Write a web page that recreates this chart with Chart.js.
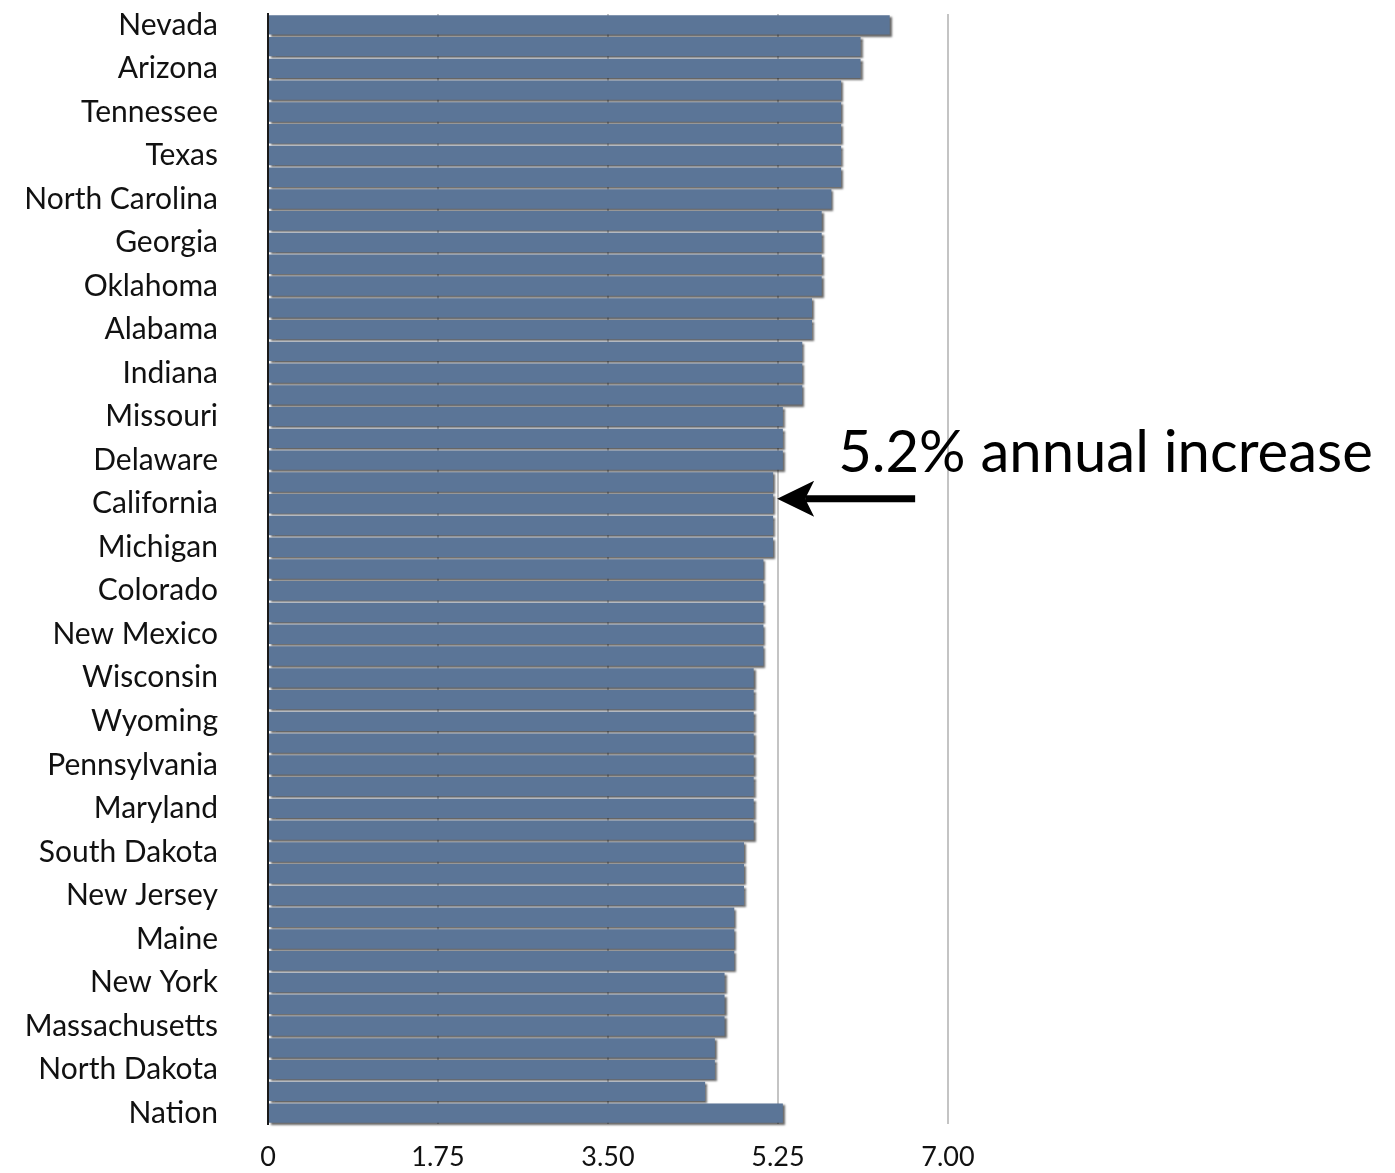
<!DOCTYPE html>
<html>
<head>
<meta charset="utf-8">
<title>Annual increase by state</title>
<script src="https://cdn.jsdelivr.net/npm/chart.js@4/dist/chart.umd.min.js"></script>
<style>
  html, body { margin: 0; padding: 0; background: #ffffff; }
  #wrap { width: 1395px; height: 1173px; position: relative; }
</style>
</head>
<body>
<div id="wrap"><canvas id="chart"></canvas></div>
<script>
// Row labels: every other row carries a name, the rows between are unnamed.
const categories = [
  'Nevada', '', 'Arizona', '', 'Tennessee', '', 'Texas', '', 'North Carolina', '',
  'Georgia', '', 'Oklahoma', '', 'Alabama', '', 'Indiana', '', 'Missouri', '',
  'Delaware', '', 'California', '', 'Michigan', '', 'Colorado', '', 'New Mexico', '',
  'Wisconsin', '', 'Wyoming', '', 'Pennsylvania', '', 'Maryland', '', 'South Dakota', '',
  'New Jersey', '', 'Maine', '', 'New York', '', 'Massachusetts', '', 'North Dakota', '',
  'Nation'
];

// Annual increase (%) for each row.
const increase = [
  6.4, 6.1, 6.1, 5.9, 5.9, 5.9, 5.9, 5.9, 5.8, 5.7,
  5.7, 5.7, 5.7, 5.6, 5.6, 5.5, 5.5, 5.5, 5.3, 5.3,
  5.3, 5.2, 5.2, 5.2, 5.2, 5.1, 5.1, 5.1, 5.1, 5.1,
  5.0, 5.0, 5.0, 5.0, 5.0, 5.0, 5.0, 5.0, 4.9, 4.9,
  4.9, 4.8, 4.8, 4.8, 4.7, 4.7, 4.7, 4.6, 4.6, 4.5,
  5.3
];

// Value axis ticks.
const tickValues = [0, 1.75, 3.5, 5.25, 7];
const tickLabels = ['0', '1.75', '3.50', '5.25', '7.00'];

// Callout pointing at one row.
const calloutRow = 'California';
const calloutText = '5.2% annual increase';

const FONT = 'Lato, "Open Sans", "DejaVu Sans", sans-serif';

// Soft drop shadow under the bars.
const barShadow = {
  id: 'barShadow',
  beforeDatasetsDraw(chart) {
    const ctx = chart.ctx;
    ctx.save();
    ctx.shadowColor = 'rgba(0,0,0,0.6)';
    ctx.shadowBlur = 2;
    ctx.shadowOffsetX = 2;
    ctx.shadowOffsetY = 2;
  },
  afterDatasetsDraw(chart) {
    chart.ctx.restore();
  }
};

// Arrow and text for the callout row.
const callout = {
  id: 'callout',
  afterDraw(chart) {
    const ctx = chart.ctx;
    const xs = chart.scales.x, ys = chart.scales.y;
    const idx = categories.indexOf(calloutRow);
    const tipX = xs.getPixelForValue(increase[idx]) + 4;
    const tipY = ys.getPixelForValue(idx) - 5;
    ctx.save();
    ctx.fillStyle = '#000';
    ctx.strokeStyle = '#000';
    // shaft
    ctx.lineWidth = 7;
    ctx.beginPath();
    ctx.moveTo(tipX + 28, tipY);
    ctx.lineTo(tipX + 138, tipY);
    ctx.stroke();
    // barbed head
    ctx.beginPath();
    ctx.moveTo(tipX, tipY);
    ctx.lineTo(tipX + 37, tipY - 18);
    ctx.lineTo(tipX + 28, tipY);
    ctx.lineTo(tipX + 37, tipY + 18);
    ctx.closePath();
    ctx.fill();
    // label
    ctx.font = '58px ' + FONT;
    ctx.textAlign = 'left';
    ctx.textBaseline = 'alphabetic';
    ctx.fillText(calloutText, tipX + 61, tipY - 27);
    ctx.restore();
  }
};

new Chart(document.getElementById('chart'), {
  type: 'bar',
  data: {
    labels: categories,
    datasets: [{
      data: increase,
      backgroundColor: '#5b7597',
      borderWidth: 0,
      barPercentage: 0.89,
      categoryPercentage: 1.0,
      clip: false
    }]
  },
  options: {
    indexAxis: 'y',
    responsive: true,
    maintainAspectRatio: false,
    animation: false,
    layout: { padding: { left: 0, right: 447, top: 14, bottom: 0 } },
    plugins: {
      legend: { display: false },
      tooltip: { enabled: false }
    },
    scales: {
      x: {
        min: 0,
        max: 7,
        afterBuildTicks(scale) {
          scale.ticks = tickValues.map(v => ({ value: v }));
        },
        afterFit(scale) {
          scale.height = 49;
          scale.paddingTop = 0;
          scale.paddingBottom = 0;
        },
        ticks: {
          autoSkip: false,
          maxRotation: 0,
          padding: 17,
          color: '#111',
          font: { family: FONT, size: 27 },
          callback(value, index) { return tickLabels[index]; }
        },
        grid: {
          drawTicks: false,
          color: '#c4c4c4',
          lineWidth: 2
        },
        border: { display: false }
      },
      y: {
        afterFit(scale) {
          scale.width = 268;
          scale.paddingTop = 0;
          scale.paddingBottom = 0;
        },
        ticks: {
          autoSkip: false,
          padding: 50,
          color: '#111',
          font: { family: FONT, size: 30 }
        },
        grid: { display: false, drawTicks: false },
        border: { display: true, color: '#1a1a1a', width: 2 }
      }
    }
  },
  plugins: [barShadow, callout]
});
</script>
</body>
</html>
